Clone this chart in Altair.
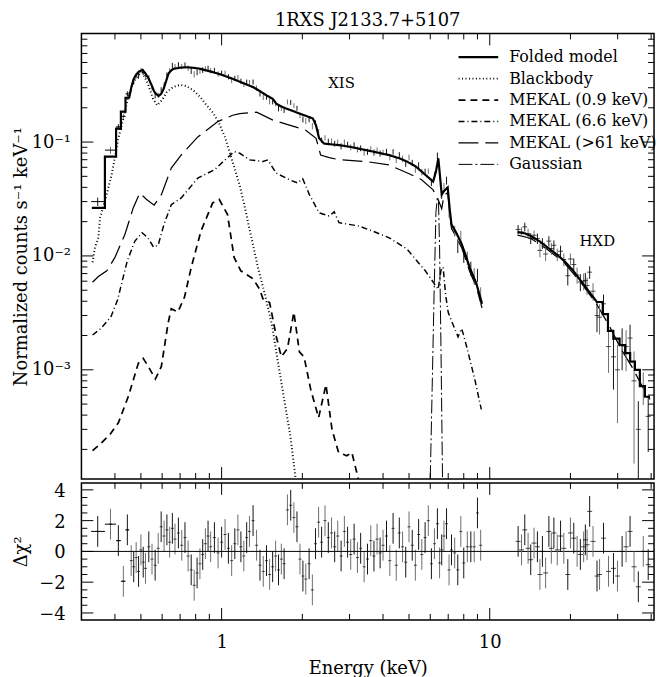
import altair as alt
import pandas as pd

SERIF = "DejaVu Serif"

# ---------------- data ----------------
# Folded model, XIS band (keV, counts s^-1 keV^-1); repeated energies are the low-energy bin steps
model_xis_E = [0.328,0.367,0.367,0.404,0.404,0.421,0.421,0.438,0.438,0.452,
               0.46,0.47,0.48,0.491,0.507,0.52,0.535,0.55,0.558,0.565,
               0.582,0.595,0.608,0.62,0.634,0.648,0.662,0.70,0.742,0.79,
               0.831,0.88,0.931,1.0,1.10,1.2,1.31,1.39,1.47,1.55,
               1.6,1.67,1.74,1.85,1.95,2.06,2.19,2.25,2.31,2.41,
               2.5,2.74,3.0,3.45,3.8,4.2,4.6,4.91,5.3,5.75,
               6.15,6.3,6.43,6.5,6.62,6.75,6.97,7.1,7.2,7.5,
               7.86,8.15,8.42,8.92,9.36]
model_xis_v = [0.0264,0.0264,0.0746,0.0746,0.131,0.131,0.185,0.185,0.245,0.245,
               0.30,0.359,0.39,0.415,0.43,0.40,0.359,0.31,0.284,0.27,
               0.254,0.265,0.294,0.34,0.40,0.425,0.44,0.45,0.454,0.448,
               0.44,0.425,0.41,0.39,0.359,0.33,0.304,0.28,0.257,0.24,
               0.217,0.205,0.197,0.187,0.178,0.17,0.161,0.14,0.108,0.097,
               0.096,0.094,0.091,0.085,0.081,0.077,0.072,0.0675,0.061,0.0516,
               0.045,0.055,0.072,0.055,0.0345,0.037,0.040,0.025,0.0189,0.016,
               0.0127,0.010,0.0079,0.0057,0.0038]
# Folded model, HXD band
model_hxd_E = [12.7,13.5,14.2,15.3,16.4,17.6,18.9,20.3,21.8,23.1,
               24.4,25.1,26.4,26.4,27.6,27.6,28.9,28.9,30.5,30.5,
               32.0,32.0,33.4,33.4,34.8,34.8,36.3,36.3,37.9,37.9,39.6]
model_hxd_v = [0.0162,0.0158,0.0150,0.0135,0.0119,0.0105,0.0091,0.0076,0.0061,0.0051,
               0.0043,0.00394,0.00394,0.00308,0.00308,0.0022,0.0022,0.00188,0.00188,0.00165,
               0.00165,0.0014,0.0014,0.00118,0.00118,0.001,0.001,0.00072,0.00072,0.00058,0.00058]
# Blackbody
bb_E = [0.33,0.337,0.347,0.352,0.367,0.389,0.412,0.43,0.45,0.47,
        0.49,0.507,0.53,0.555,0.575,0.60,0.625,0.66,0.70,0.74,
        0.785,0.83,0.88,0.93,0.98,1.03,1.07,1.12,1.17,1.22,
        1.27,1.32,1.37,1.45,1.545,1.61,1.705,1.806,1.885,1.95]
bb_v = [0.0088,0.0119,0.0145,0.0216,0.0303,0.0517,0.108,0.16,0.26,0.336,
        0.39,0.405,0.33,0.24,0.21,0.235,0.275,0.305,0.318,0.31,
        0.284,0.25,0.21,0.18,0.145,0.11,0.082,0.058,0.041,0.027,
        0.0172,0.0115,0.0077,0.0046,0.0024,0.0013,0.00058,0.00026,0.000114,0.00007]
# MEKAL 0.9 keV
mk09_E = [0.33,0.352,0.384,0.412,0.449,0.489,0.51,0.535,0.566,0.596,
          0.631,0.649,0.687,0.727,0.77,0.838,0.926,0.98,1.052,1.113,
          1.179,1.284,1.31,1.386,1.426,1.51,1.6,1.67,1.76,1.86,
          1.95,2.03,2.15,2.3,2.45,2.58,2.73,2.93,3.06,3.19,3.3]
mk09_v = [0.000195,0.000222,0.000272,0.000343,0.000585,0.00114,0.00126,0.00105,0.00083,0.00107,
          0.00255,0.00344,0.00322,0.00435,0.0079,0.0166,0.0292,0.0313,0.0231,0.0097,
          0.0074,0.0065,0.0063,0.0051,0.0042,0.0039,0.00195,0.0013,0.00154,0.0032,
          0.00144,0.0013,0.00067,0.00038,0.00074,0.0003,0.000188,0.000176,0.000188,0.000126,0.00009]
# MEKAL 6.6 keV
mk66_E = [0.33,0.354,0.386,0.409,0.445,0.475,0.505,0.53,0.558,0.58,
          0.61,0.649,0.707,0.815,0.939,1.113,1.169,1.248,1.273,1.426,
          1.488,1.598,1.79,1.92,2.006,2.125,2.31,2.52,2.63,2.74,
          3.25,3.64,4.2,4.91,5.75,6.42,6.58,6.7,6.85,7.0,
          7.2,7.62,7.85,7.95,8.2,8.8,9.3]
mk66_v = [0.00202,0.0023,0.0029,0.0041,0.0091,0.0135,0.016,0.0145,0.0119,0.0125,
          0.019,0.0282,0.0323,0.0483,0.057,0.0825,0.0797,0.072,0.0697,0.0675,
          0.0697,0.0533,0.0467,0.0437,0.0477,0.0345,0.0239,0.0224,0.0244,0.0196,
          0.0183,0.0166,0.0145,0.0115,0.0074,0.0051,0.0075,0.0080,0.0045,0.0032,
          0.0027,0.00195,0.0023,0.0021,0.0016,0.00082,0.00045]
# MEKAL >61 keV (XIS band, then HXD band)
mk61_E = [0.33,0.347,0.373,0.40,0.436,0.468,0.495,0.525,0.56,0.596,
          0.649,0.707,0.815,0.966,1.10,1.169,1.35,1.553,1.79,2.06,
          2.25,2.34,2.52,2.74,3.45,4.2,4.98,5.57,6.15,6.42,
          6.62,6.75,6.97,7.2,7.86,8.42,8.92,9.36]
mk61_v = [0.00588,0.0066,0.0074,0.0097,0.0155,0.0264,0.0357,0.0313,0.0279,0.0345,
          0.059,0.077,0.111,0.151,0.172,0.178,0.183,0.156,0.141,0.127,
          0.108,0.077,0.073,0.070,0.0675,0.063,0.053,0.0467,0.038,0.0313,
          0.026,0.034,0.036,0.0175,0.0118,0.0073,0.0053,0.0035]
mk61h_E = [12.7,14.2,16.4,18.9,21.8,25.0,28.0,31.0,34.0,37.0,39.6]
mk61h_v = [0.0152,0.0143,0.0114,0.0088,0.0059,0.0038,0.0024,0.0015,0.00105,0.00072,0.00055]
# Gaussian (Fe 6.4 keV)
gau_E = [6.0,6.1,6.2,6.3,6.37,6.44,6.5,6.58,6.67]
gau_v = [0.00011,0.0007,0.0046,0.024,0.032,0.030,0.012,0.0015,0.0001]

# XIS data: energy, rate, 1-sigma error, residual (delta chi)
xis_E = [0.345,0.385,0.412,0.43,0.445,0.46,0.47,0.48,0.49,0.50,
         0.51,0.52,0.535,0.55,0.565,0.58,0.595,0.61,0.625,0.64,
         0.655,0.67,0.69,0.71,0.73,0.75,0.77,0.79,0.81,0.83,
         0.85,0.87,0.89,0.91,0.94,0.97,1.0,1.03,1.06,1.09,
         1.12,1.15,1.18,1.21,1.24,1.27,1.31,1.35,1.39,1.43,
         1.47,1.51,1.55,1.59,1.63,1.67,1.71,1.76,1.81,1.86,
         1.91,1.96,2.01,2.06,2.12,2.18,2.24,2.3,2.36,2.43,
         2.5,2.57,2.64,2.71,2.79,2.87,2.95,3.03,3.12,3.21,
         3.3,3.4,3.5,3.6,3.7,3.8,3.9,4.0,4.12,4.24,
         4.36,4.48,4.6,4.73,4.86,5.0,5.14,5.28,5.43,5.58,
         5.74,5.9,6.06,6.22,6.38,6.5,6.62,6.75,6.9,7.05,
         7.2,7.4,7.6,7.8,8.0,8.25,8.5,8.75,9.0,9.25]
xis_rate = [0.030,0.085,0.136,0.168,0.265,0.290,0.339,0.381,0.383,0.427,
            0.413,0.376,0.365,0.301,0.257,0.258,0.288,0.317,0.388,0.424,
            0.471,0.461,0.478,0.461,0.475,0.447,0.421,0.394,0.410,0.421,
            0.429,0.440,0.445,0.423,0.427,0.396,0.403,0.403,0.375,0.350,
            0.363,0.370,0.342,0.322,0.336,0.334,0.337,0.298,0.266,0.249,
            0.249,0.228,0.227,0.218,0.198,0.199,0.191,0.225,0.223,0.209,
            0.198,0.172,0.158,0.153,0.158,0.138,0.147,0.124,0.104,0.109,
            0.101,0.102,0.097,0.0996,0.0918,0.0997,0.0951,0.0899,0.0941,0.0864,
            0.0883,0.081,0.0822,0.087,0.0811,0.0849,0.0795,0.0809,0.0825,0.0737,
            0.082,0.0698,0.0772,0.0713,0.0649,0.0734,0.0657,0.0576,0.0627,0.0545,
            0.0549,0.0554,0.0441,0.051,0.0755,0.0517,0.0348,0.0403,0.046,0.0245,
            0.0191,0.0166,0.0123,0.015,0.0101,0.0096,0.0078,0.0067,0.0068,0.0045]
xis_err = [0.0025,0.006,0.0075,0.009,0.014,0.0165,0.020,0.021,0.023,0.023,
           0.024,0.022,0.020,0.017,0.015,0.014,0.015,0.017,0.020,0.023,
           0.024,0.024,0.025,0.025,0.025,0.025,0.025,0.025,0.024,0.024,
           0.024,0.024,0.023,0.023,0.022,0.022,0.021,0.021,0.020,0.020,
           0.019,0.019,0.018,0.018,0.018,0.017,0.017,0.016,0.015,0.015,
           0.014,0.014,0.013,0.012,0.012,0.011,0.011,0.011,0.011,0.010,
           0.010,0.0097,0.0095,0.0094,0.0091,0.0089,0.0079,0.0062,0.0056,0.0058,
           0.0058,0.0057,0.0057,0.0056,0.0056,0.0056,0.0055,0.0055,0.0054,0.0053,
           0.0052,0.0052,0.0051,0.005,0.005,0.0049,0.0048,0.0047,0.0047,0.0046,
           0.0045,0.0044,0.0043,0.0046,0.0044,0.0043,0.0042,0.004,0.0038,0.0036,
           0.0034,0.0032,0.003,0.0039,0.0053,0.0044,0.0031,0.0033,0.0036,0.0028,
           0.0021,0.0018,0.0017,0.0016,0.0014,0.0013,0.0011,0.0011,0.0009,0.0008]
xis_resid = [1.3,1.77,0.7,-1.94,1.4,-0.6,-1.0,-0.4,-1.3,0.1,
             -0.7,-1.1,0.3,-0.5,-0.9,0.2,1.6,1.0,1.4,0.6,
             1.5,0.8,1.2,0.4,0.9,-0.3,-1.2,-2.2,-1.4,-0.8,
             -0.2,0.5,1.0,0.3,0.9,-0.1,0.6,1.1,0.2,-0.6,
             0.5,1.4,0.3,-0.3,0.9,1.3,2.0,0.4,-0.9,-1.3,
             -0.6,-1.5,-1.0,-0.3,-1.2,-0.5,-0.8,2.7,3.0,2.2,
             1.6,-0.5,-1.6,-1.8,-0.8,-2.5,0.5,1.9,0.6,2.0,
             0.9,1.2,0.3,1.0,-0.3,1.3,0.6,-0.2,0.8,-0.4,
             0.2,-1.0,-0.5,0.7,-0.3,0.8,-0.1,0.4,1.0,-0.6,
             1.5,-0.9,1.2,0.3,-0.7,1.6,0.4,-0.9,1.1,-0.2,
             0.9,2.0,-0.8,0.5,1.8,-0.75,0.1,1.0,1.8,-1.2,
             0.1,-0.1,-1.2,1.3,-0.75,0.3,0.3,0.3,2.5,0.4]
# edges of the five wide low-energy XIS bins
lowbin_lo = [0.326,0.367,0.404,0.421,0.438]
lowbin_hi = [0.367,0.404,0.421,0.438,0.452]

# HXD data
hxd_E = [12.76,13.14,13.51,13.90,14.22,14.63,15.06,15.39,15.72,16.16,
         16.62,16.97,17.35,17.86,18.37,18.89,19.55,20.0,20.58,21.18,
         21.78,22.4,22.73,23.07,23.59,24.28,25.12,25.68,26.57,27.73,
         28.94,29.95,31.17,32.25,33.37,34.53,35.83,37.38,39.0]
hxd_rate = [0.0171,0.0162,0.0180,0.0157,0.0142,0.0152,0.0142,0.0112,0.0129,0.0104,
            0.0135,0.0116,0.0124,0.0103,0.0110,0.0093,0.0067,0.0094,0.0084,0.0068,
            0.0059,0.0060,0.0061,0.0055,0.0072,0.0049,0.0030,0.0029,0.0038,0.0016,
            0.0013,0.0010,0.00165,0.0016,0.0019,0.0008,0.0003,0.00072,0.00039]
hxd_err = [0.0016,0.0016,0.0016,0.0016,0.0015,0.0015,0.0015,0.0015,0.0014,0.0014,
           0.0014,0.0014,0.0013,0.0013,0.0013,0.0012,0.0012,0.0011,0.0011,0.0011,
           0.0010,0.0010,0.0010,0.00097,0.00091,0.00086,0.00086,0.00086,0.00078,0.00066,
           0.00063,0.00066,0.00066,0.00063,0.00059,0.00065,0.00023,0.00023,0.0002]
hxd_resid = [0.65,0.1,1.4,0.2,-0.54,0.54,0.3,-1.5,0.0,-1.4,
             1.3,0.2,1.2,0.1,1.0,0.2,-1.5,1.2,0.86,0.0,
             -0.2,0.3,0.75,0.43,2.6,0.65,-1.6,-1.5,0.86,-1.3,
             -1.1,-1.6,0.0,0.3,1.3,-1.0,-2.3,0.0,-0.86]

label_text = ["XIS", "HXD"]
label_E = [2.8, 25.2]
label_v = [0.33, 0.0136]

series_order = ["Folded model", "Blackbody", "MEKAL (0.9 keV)",
                "MEKAL (6.6 keV)", "MEKAL (>61 keV)", "Gaussian"]

# axis tick positions
x_major = [1, 10]
x_minor = [0.4,0.5,0.6,0.7,0.8,0.9,2,3,4,5,6,7,8,9,20,30,40]
y_major = [1e-3, 1e-2, 1e-1]
y_minor = [k * 10.0**p for p in (-4, -3, -2, -1) for k in range(2, 10)]
y_minor = [t for t in y_minor if 1.1e-4 < t < 0.89]
r_major = [-4, -2, 0, 2, 4]
r_minor = [-3.5,-3,-2.5,-1.5,-1,-0.5,0.5,1,1.5,2.5,3,3.5]

# ---------------- layout ----------------
W = 577
H1 = 449
H2 = 138
XDOM = [0.3, 41]
YDOM = [1.1e-4, 0.9]
RDOM = [-4.45, 4.45]
EXT = 45

xs = alt.Scale(type="log", domain=XDOM, nice=False)
ys = alt.Scale(type="log", domain=YDOM, nice=False)
rs = alt.Scale(domain=RDOM, nice=False, zero=False)


def curve(name, part, E, v):
    return pd.DataFrame({"E": E, "v": v, "series": name, "part": part, "idx": list(range(len(E)))})


comp_df = pd.concat([
    curve("Blackbody", "xis", bb_E, bb_v),
    curve("MEKAL (0.9 keV)", "xis", mk09_E, mk09_v),
    curve("MEKAL (6.6 keV)", "xis", mk66_E, mk66_v),
    curve("MEKAL (>61 keV)", "xis", mk61_E, mk61_v),
    curve("MEKAL (>61 keV)", "hxd", mk61h_E, mk61h_v),
    curve("Gaussian", "xis", gau_E, gau_v),
], ignore_index=True)
model_df = pd.concat([
    curve("Folded model", "xis", model_xis_E, model_xis_v),
    curve("Folded model", "hxd", model_hxd_E, model_hxd_v),
], ignore_index=True)

xis_df = pd.DataFrame({"E": xis_E, "rate": xis_rate, "err": xis_err, "r": xis_resid,
                       "k": list(range(len(xis_E)))})
hxd_df = pd.DataFrame({"E": hxd_E, "rate": hxd_rate, "err": hxd_err, "r": hxd_resid,
                       "k": list(range(len(hxd_E)))})
low_df = pd.DataFrame({"lo": lowbin_lo, "hi": lowbin_hi,
                       "rate": xis_rate[:5], "r": xis_resid[:5]})
lab_df = pd.DataFrame({"E": label_E, "v": label_v, "t": label_text})
rlab_df = pd.DataFrame({"t": r_major})

dash_scale = alt.Scale(domain=series_order,
                       range=[[1, 0], [1, 2.5], [7, 5], [6, 3, 1, 3], [20, 7], [14, 3, 2, 3]])
width_scale = alt.Scale(domain=series_order, range=[2.2, 1, 1, 1, 1, 1])
# a wide horizontal stroke drawn with a small symbol size keeps the rows compact
legend = alt.Legend(title=None, orient="none", legendX=392, legendY=16,
                    symbolType="M-5,0H5", symbolSize=64, symbolStrokeColor="black",
                    symbolFillColor="transparent",
                    labelFont=SERIF, labelFontSize=16, labelColor="black",
                    labelOffset=23, rowPadding=5.6, padding=0, symbolOffset=0)

y_axis = alt.Axis(values=y_major, ticks=False, domain=False, grid=False,
                  labelExpr="datum.value < 0.005 ? '10⁻³' : (datum.value < 0.05 ? '10⁻²' : '10⁻¹')",
                  labelFont=SERIF, labelFontSize=18, labelPadding=11, labelColor="black",
                  title="Normalized counts s⁻¹ keV⁻¹", titleFont=SERIF, titleFontSize=18,
                  titleFontWeight="normal", titleColor="black", titlePadding=6,
                  minExtent=EXT, maxExtent=EXT, labelOverlap=False)


def line_layer(df, with_axis):
    yenc = alt.Y("v:Q", scale=ys, axis=y_axis) if with_axis else alt.Y("v:Q", scale=ys)
    return alt.Chart(df).mark_line(color="black", clip=True).encode(
        x=alt.X("E:Q", scale=xs, axis=None),
        y=yenc,
        strokeDash=alt.StrokeDash("series:N", scale=dash_scale, legend=legend),
        strokeWidth=alt.StrokeWidth("series:N", scale=width_scale, legend=legend),
        detail="part:N",
        order="idx:Q",
    )


def frame_ticks(yscale, ymaj, ymin, H, xaxis_off):
    layers = []
    for vals, L in ((x_major, 12), (x_minor, 6)):
        base = alt.Chart(pd.DataFrame({"t": vals})).mark_rule(color="black", strokeWidth=1)
        xe = alt.X("t:Q", scale=xs, axis=None) if xaxis_off else alt.X("t:Q", scale=xs)
        layers.append(base.encode(x=xe, y=alt.value(H), y2=alt.value(H - L)))
        layers.append(base.encode(x=xe, y=alt.value(0), y2=alt.value(L)))
    for vals, L in ((ymaj, 12), (ymin, 6)):
        base = alt.Chart(pd.DataFrame({"t": vals})).mark_rule(color="black", strokeWidth=1)
        ye = alt.Y("t:Q", scale=yscale)
        layers.append(base.encode(y=ye, x=alt.value(0), x2=alt.value(L)))
        layers.append(base.encode(y=ye, x=alt.value(W), x2=alt.value(W - L)))
    return layers


colcalc = "datum.k % 2 ? '#6e6e6e' : '#141414'"

# ---- main panel ----
xis_bars = alt.Chart(xis_df).transform_calculate(
    lo="max(datum.rate - datum.err, 1e-6)", hi="datum.rate + datum.err", col=colcalc
).mark_rule(strokeWidth=1, clip=True).encode(
    x=alt.X("E:Q", scale=xs, axis=None),
    y=alt.Y("lo:Q", scale=ys), y2="hi:Q",
    color=alt.Color("col:N", scale=None))
low_bars = alt.Chart(low_df).mark_rule(strokeWidth=1, color="black").encode(
    x=alt.X("lo:Q", scale=xs, axis=None), x2="hi:Q",
    y=alt.Y("rate:Q", scale=ys))
hxd_bars = alt.Chart(hxd_df).transform_calculate(
    lo="max(datum.rate - datum.err, 1e-6)", hi="datum.rate + datum.err", col=colcalc
).mark_rule(strokeWidth=1, clip=True).encode(
    x=alt.X("E:Q", scale=xs, axis=None),
    y=alt.Y("lo:Q", scale=ys), y2="hi:Q",
    color=alt.Color("col:N", scale=None))
hxd_ticks = alt.Chart(hxd_df).mark_tick(orient="horizontal", size=5, thickness=1, color="black").encode(
    x=alt.X("E:Q", scale=xs, axis=None), y=alt.Y("rate:Q", scale=ys))
labels = alt.Chart(lab_df).mark_text(font=SERIF, fontSize=15, color="black").encode(
    x=alt.X("E:Q", scale=xs, axis=None), y=alt.Y("v:Q", scale=ys), text="t:N")

main = alt.layer(
    line_layer(comp_df, True), xis_bars, low_bars, hxd_bars, hxd_ticks,
    line_layer(model_df, False), labels,
    *frame_ticks(ys, y_major, y_minor, H1, True)
).properties(width=W, height=H1,
             title=alt.Title("1RXS J2133.7+5107", font=SERIF, fontSize=18, fontWeight="normal",
                             anchor="middle", frame="group", offset=3, color="black"))

# ---- residual panel ----
# tick labels of the residual axis are drawn as text placed through the y scale
r_axis = alt.Axis(values=r_major, ticks=False, domain=False, grid=False, labels=False,
                  title="Δχ²", titleFont=SERIF, titleFontSize=18, titleFontWeight="normal",
                  titleColor="black", titlePadding=6, minExtent=EXT, maxExtent=EXT)
x_axis = alt.Axis(values=x_major, ticks=False, domain=False, grid=False, format="~g",
                  labelFont=SERIF, labelFontSize=18, labelPadding=14, labelColor="black",
                  title="Energy (keV)", titleFont=SERIF, titleFontSize=18,
                  titleFontWeight="normal", titleColor="black", titlePadding=8)

zero = alt.Chart(pd.DataFrame({"z": [0]})).mark_rule(color="black", strokeWidth=1).encode(
    y=alt.Y("z:Q", scale=rs))
rx_bars = alt.Chart(xis_df).transform_calculate(
    lo="datum.r - 1", hi="datum.r + 1", col=colcalc
).mark_rule(strokeWidth=1, clip=True).encode(
    x=alt.X("E:Q", scale=xs, axis=x_axis),
    y=alt.Y("lo:Q", scale=rs, axis=r_axis), y2="hi:Q",
    color=alt.Color("col:N", scale=None))
rx_ticks = alt.Chart(xis_df).mark_tick(orient="horizontal", size=3, thickness=1, color="black").encode(
    x=alt.X("E:Q", scale=xs), y=alt.Y("r:Q", scale=rs))
r_low = alt.Chart(low_df).mark_rule(strokeWidth=1, color="black").encode(
    x=alt.X("lo:Q", scale=xs), x2="hi:Q", y=alt.Y("r:Q", scale=rs))
rh_bars = alt.Chart(hxd_df).transform_calculate(
    lo="datum.r - 1", hi="datum.r + 1", col=colcalc
).mark_rule(strokeWidth=1, clip=True).encode(
    x=alt.X("E:Q", scale=xs),
    y=alt.Y("lo:Q", scale=rs), y2="hi:Q",
    color=alt.Color("col:N", scale=None))
rh_ticks = alt.Chart(hxd_df).mark_tick(orient="horizontal", size=5, thickness=1, color="black").encode(
    x=alt.X("E:Q", scale=xs), y=alt.Y("r:Q", scale=rs))
r_labels = alt.Chart(rlab_df).transform_calculate(
    s="format(datum.t, 'd')"
).mark_text(font=SERIF, fontSize=18, color="black", align="right", baseline="middle",
            dy=2, clip=False).encode(
    y=alt.Y("t:Q", scale=rs), x=alt.value(-16), text="s:N")

resid = alt.layer(
    rx_bars, zero, rx_ticks, r_low, rh_bars, rh_ticks, r_labels,
    *frame_ticks(rs, r_major, r_minor, H2, False)
).properties(width=W, height=H2)

chart = alt.vconcat(main, resid, spacing=0).resolve_scale(
    strokeDash="independent", strokeWidth="independent"
).properties(
    padding={"left": 4, "top": 0, "right": 0, "bottom": 0}
).configure(
    font=SERIF
).configure_view(
    stroke="black", strokeWidth=1.5
)

chart.save("out.html", embed_options={"renderer": "svg", "actions": False})
